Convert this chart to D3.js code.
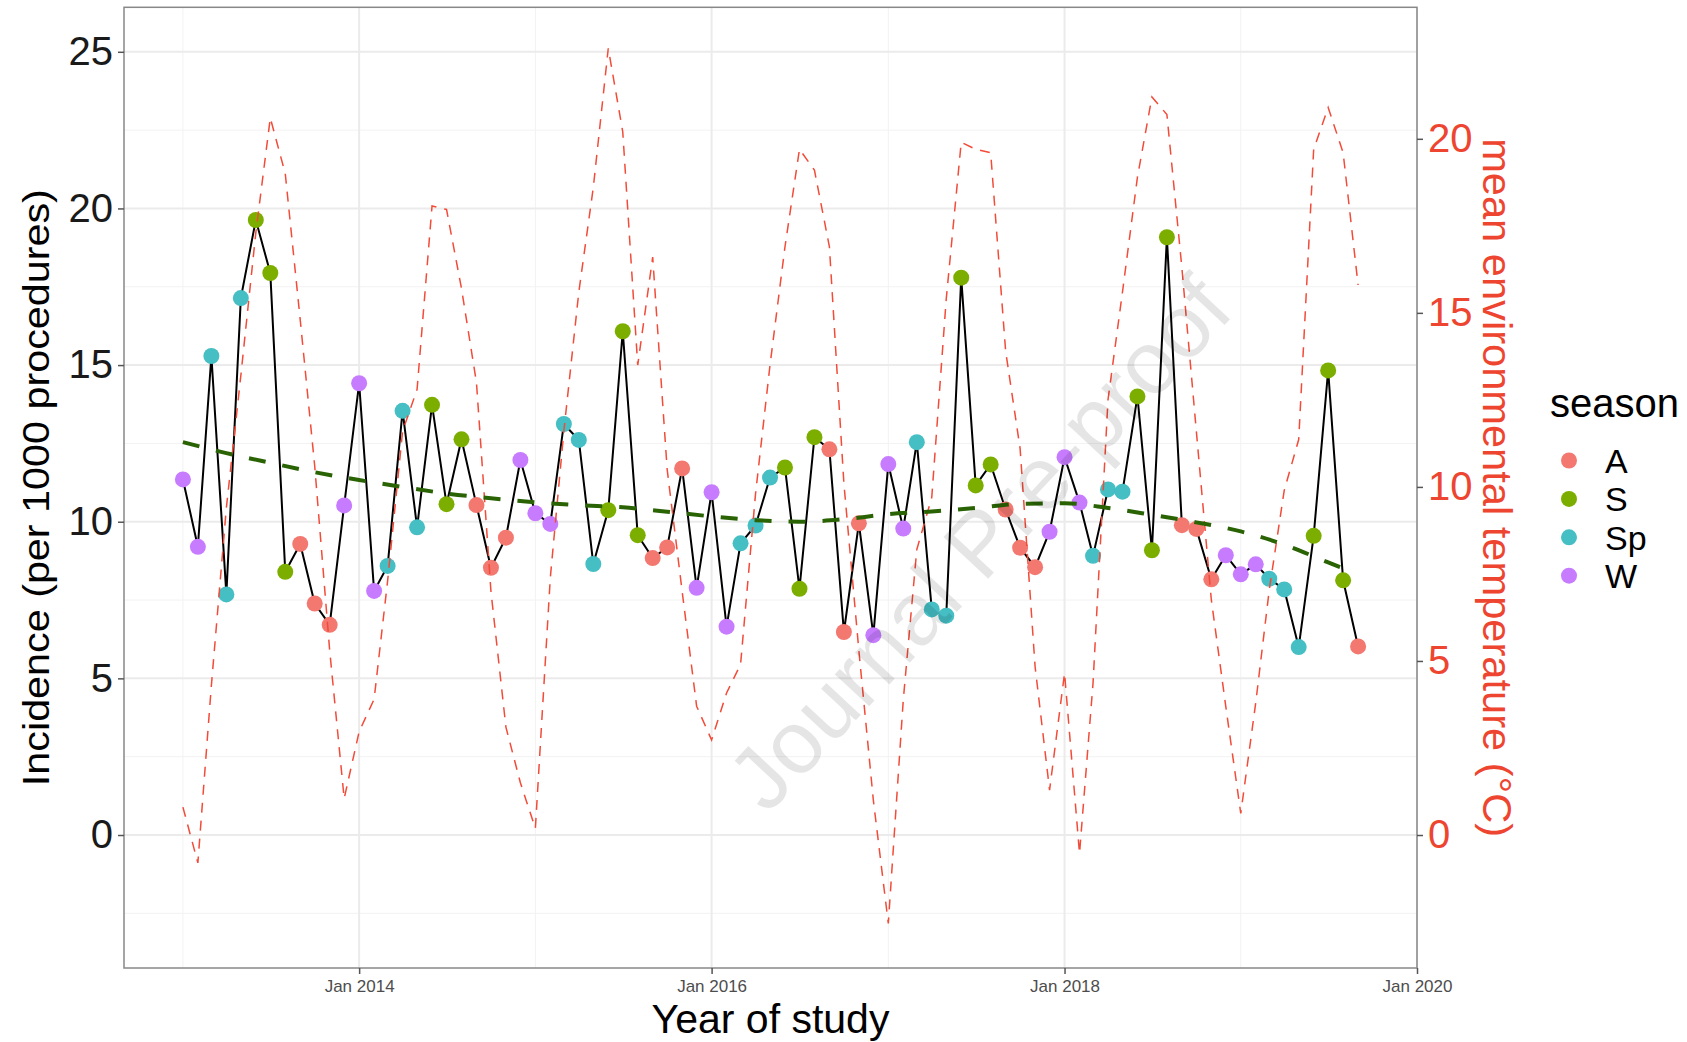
<!DOCTYPE html>
<html>
<head>
<meta charset="utf-8">
<script src="https://cdn.jsdelivr.net/npm/d3@7"></script>
<style>
  body { margin: 0; background: #fff; }
  svg text { font-family: "Liberation Sans", Arial, sans-serif; }
</style>
</head>
<body>
<div id="chart"></div>
<script>
// Dimensiones generales
const width = 1687;
const height = 1042;
const panel = { left: 124, right: 1417, top: 7.3, bottom: 968 };

// Datos mensuales (enero 2013 - septiembre 2019)
const months = [
  "2013-01","2013-02","2013-03","2013-04","2013-05","2013-06","2013-07","2013-08","2013-09","2013-10","2013-11","2013-12",
  "2014-01","2014-02","2014-03","2014-04","2014-05","2014-06","2014-07","2014-08","2014-09","2014-10","2014-11","2014-12",
  "2015-01","2015-02","2015-03","2015-04","2015-05","2015-06","2015-07","2015-08","2015-09","2015-10","2015-11","2015-12",
  "2016-01","2016-02","2016-03","2016-04","2016-05","2016-06","2016-07","2016-08","2016-09","2016-10","2016-11","2016-12",
  "2017-01","2017-02","2017-03","2017-04","2017-05","2017-06","2017-07","2017-08","2017-09","2017-10","2017-11","2017-12",
  "2018-01","2018-02","2018-03","2018-04","2018-05","2018-06","2018-07","2018-08","2018-09","2018-10","2018-11","2018-12",
  "2019-01","2019-02","2019-03","2019-04","2019-05","2019-06","2019-07","2019-08","2019-09"
];
const season = [
  "W","W","Sp","Sp","Sp","S","S","S","A","A","A","W",
  "W","W","Sp","Sp","Sp","S","S","S","A","A","A","W",
  "W","W","Sp","Sp","Sp","S","S","S","A","A","A","W",
  "W","W","Sp","Sp","Sp","S","S","S","A","A","A","W",
  "W","W","Sp","Sp","Sp","S","S","S","A","A","A","W",
  "W","W","Sp","Sp","Sp","S","S","S","A","A","A","W",
  "W","W","Sp","Sp","Sp","S","S","S","A"
];
const incidence = [
  11.35, 9.20, 15.29, 7.68, 17.14, 19.63, 17.94, 8.40, 9.29, 7.39, 6.71, 10.52,
  14.42, 7.79, 8.59, 13.54, 9.82, 13.73, 10.56, 12.63, 10.53, 8.53, 9.49, 11.97,
  10.27, 9.93, 13.12, 12.61, 8.65, 10.37, 16.08, 9.57, 8.84, 9.18, 11.70, 7.89,
  10.94, 6.65, 9.31, 9.88, 11.41, 11.73, 7.86, 12.70, 12.31, 6.48, 9.95, 6.38,
  11.84, 9.78, 12.54, 7.20, 7.00, 17.79, 11.16, 11.83, 10.39, 9.17, 8.55, 9.68,
  12.06, 10.61, 8.91, 11.03, 10.96, 14.00, 9.09, 19.08, 9.89, 9.77, 8.16, 8.93,
  8.32, 8.64, 8.18, 7.84, 6.00, 9.55, 14.83, 8.13, 6.02
];
const temperature = [
  0.8, -0.8, 4.3, 9.4, 13.2, 17.3, 20.6, 19.0, 14.8, 10.6, 5.3, 1.05,
  2.97, 3.9, 7.3, 11.6, 12.8, 18.07, 17.97, 15.7, 13.0, 7.0, 3.1, 1.5,
  0.19, 7.4, 11.6, 15.6, 18.6, 22.6, 20.2, 13.5, 16.6, 10.5, 7.0, 3.7,
  2.73, 4.08, 4.9, 9.8, 13.5, 16.9, 19.7, 19.1, 16.9, 10.1, 5.3, 1.0,
  -2.54, 3.88, 8.2, 9.7, 15.4, 19.9, 19.7, 19.6, 13.9, 11.1, 4.84, 1.29,
  4.65, -0.53, 4.36, 12.5, 15.6, 18.9, 21.2, 20.7, 16.3, 11.6, 6.76, 3.69,
  0.62, 3.8, 7.04, 9.9, 11.36, 19.7, 20.9, 19.6, 15.8
];
// Tendencia suavizada (línea verde discontinua)
const trendMonths = [
  "2013-01","2013-04","2013-07","2013-10","2014-01","2014-04","2014-07","2014-10",
  "2015-01","2015-04","2015-07","2015-10","2016-01","2016-04","2016-07","2016-10",
  "2017-01","2017-04","2017-07","2017-10","2018-01","2018-04","2018-07","2018-10",
  "2019-01","2019-04","2019-07","2019-08"
];
const trendValues = [
  12.54, 12.19, 11.88, 11.58, 11.33, 11.11, 10.90, 10.75,
  10.62, 10.53, 10.46, 10.32, 10.17, 10.05, 10.00, 10.08,
  10.24, 10.33, 10.44, 10.57, 10.59, 10.44, 10.22, 9.98,
  9.69, 9.27, 8.70, 8.51
];

const seasonNames = ["A", "S", "Sp", "W"];
const seasonColors = ["#F27870", "#7CAE00", "#45BEC4", "#C77CFF"];
const incTicks = [0, 5, 10, 15, 20, 25];
const incMinor = [-2.5, 2.5, 7.5, 12.5, 17.5, 22.5];
const tempTicks = [0, 5, 10, 15, 20];
const dateTicks = ["2014-01", "2016-01", "2018-01", "2020-01"];
const dateTickLabels = ["Jan 2014", "Jan 2016", "Jan 2018", "Jan 2020"];
const dateMinor = ["2013-01", "2015-01", "2017-01", "2019-01"];

const parseMonth = d3.timeParse("%Y-%m");
const redText = "#EE4530";

// Escalas
const x = d3.scaleTime()
  .domain([parseMonth("2012-09"), parseMonth("2020-01")])
  .range([panel.left, panel.right]);
const y = d3.scaleLinear()
  .domain([-4.245, 26.42])
  .range([panel.bottom, panel.top]);
// eje secundario: temperatura = 0.9 * incidencia
const yTemp = d3.scaleLinear()
  .domain(y.domain().map(v => v * 0.9))
  .range(y.range());
const color = d3.scaleOrdinal().domain(seasonNames).range(seasonColors);

const data = months.map((m, i) => ({
  date: parseMonth(m), inc: incidence[i], temp: temperature[i], season: season[i]
}));
const trend = trendMonths.map((m, i) => ({ date: parseMonth(m), v: trendValues[i] }));

const svg = d3.select("#chart").append("svg")
  .attr("width", width)
  .attr("height", height);

svg.append("defs").append("clipPath").attr("id", "clip")
  .append("rect")
  .attr("x", panel.left).attr("y", panel.top)
  .attr("width", panel.right - panel.left).attr("height", panel.bottom - panel.top);

// Rejilla
const grid = svg.append("g");
grid.selectAll(".ymin").data(incMinor).enter().append("line")
  .attr("x1", panel.left).attr("x2", panel.right)
  .attr("y1", d => y(d)).attr("y2", d => y(d))
  .attr("stroke", "#f2f2f2").attr("stroke-width", 1);
grid.selectAll(".xmin").data(dateMinor).enter().append("line")
  .attr("y1", panel.top).attr("y2", panel.bottom)
  .attr("x1", d => x(parseMonth(d))).attr("x2", d => x(parseMonth(d)))
  .attr("stroke", "#f2f2f2").attr("stroke-width", 1);
grid.selectAll(".ymaj").data(incTicks).enter().append("line")
  .attr("x1", panel.left).attr("x2", panel.right)
  .attr("y1", d => y(d)).attr("y2", d => y(d))
  .attr("stroke", "#ebebeb").attr("stroke-width", 2);
grid.selectAll(".xmaj").data(dateTicks).enter().append("line")
  .attr("y1", panel.top).attr("y2", panel.bottom)
  .attr("x1", d => x(parseMonth(d))).attr("x2", d => x(parseMonth(d)))
  .attr("stroke", "#ebebeb").attr("stroke-width", 2);

const plot = svg.append("g").attr("clip-path", "url(#clip)");

// Línea de incidencia
plot.append("path")
  .datum(data)
  .attr("fill", "none")
  .attr("stroke", "#000")
  .attr("stroke-width", 2)
  .attr("d", d3.line().x(d => x(d.date)).y(d => y(d.inc)));

// Puntos por estación
plot.selectAll("circle.pt").data(data).enter().append("circle")
  .attr("class", "pt")
  .attr("cx", d => x(d.date))
  .attr("cy", d => y(d.inc))
  .attr("r", 8)
  .attr("fill", d => color(d.season));

// Temperatura (roja discontinua)
plot.append("path")
  .datum(data)
  .attr("fill", "none")
  .attr("stroke", "#F24B38")
  .attr("stroke-width", 1.5)
  .attr("stroke-dasharray", "10,8")
  .attr("d", d3.line().x(d => x(d.date)).y(d => yTemp(d.temp)));

// Tendencia
plot.append("path")
  .datum(trend)
  .attr("fill", "none")
  .attr("stroke", "#2a6304")
  .attr("stroke-width", 4)
  .attr("stroke-dasharray", "17,17")
  .attr("d", d3.line().curve(d3.curveMonotoneX).x(d => x(d.date)).y(d => y(d.v)));

// Marca de agua
svg.append("text")
  .attr("transform", "translate(979,543) rotate(-47)")
  .attr("text-anchor", "middle")
  .attr("dominant-baseline", "central")
  .attr("font-size", 89)
  .attr("fill", "#000")
  .attr("fill-opacity", 0.1)
  .text("Journal Pre-proof");

// Borde del panel
svg.append("rect")
  .attr("x", panel.left).attr("y", panel.top)
  .attr("width", panel.right - panel.left).attr("height", panel.bottom - panel.top)
  .attr("fill", "none").attr("stroke", "#888").attr("stroke-width", 1.5);

// Ejes
const axisLeft = svg.append("g")
  .attr("transform", `translate(${panel.left},0)`)
  .call(d3.axisLeft(y).tickValues(incTicks).tickSize(6).tickPadding(5));
axisLeft.select(".domain").remove();
axisLeft.selectAll("line").attr("stroke", "#555").attr("stroke-width", 1.5);
axisLeft.selectAll("text").attr("font-size", 40).attr("fill", "#1a1a1a")
  .attr("font-family", "Liberation Sans, Arial, sans-serif");

const axisRight = svg.append("g")
  .attr("transform", `translate(${panel.right},0)`)
  .call(d3.axisRight(yTemp).tickValues(tempTicks).tickSize(6).tickPadding(5));
axisRight.select(".domain").remove();
axisRight.selectAll("line").attr("stroke", "#555").attr("stroke-width", 1.5);
axisRight.selectAll("text").attr("font-size", 40).attr("fill", redText)
  .attr("font-family", "Liberation Sans, Arial, sans-serif");

const axisBottom = svg.append("g")
  .attr("transform", `translate(0,${panel.bottom})`)
  .call(d3.axisBottom(x)
    .tickValues(dateTicks.map(parseMonth))
    .tickFormat((d, i) => dateTickLabels[i])
    .tickSize(6).tickPadding(6));
axisBottom.select(".domain").remove();
axisBottom.selectAll("line").attr("stroke", "#555").attr("stroke-width", 1.5);
axisBottom.selectAll("text").attr("font-size", 17).attr("fill", "#4d4d4d")
  .attr("font-family", "Liberation Sans, Arial, sans-serif");

// Títulos de ejes
svg.append("text")
  .attr("transform", `translate(49,${(panel.top + panel.bottom) / 2}) rotate(-90)`)
  .attr("text-anchor", "middle")
  .attr("font-size", 37)
  .attr("textLength", 597)
  .attr("lengthAdjust", "spacingAndGlyphs")
  .attr("fill", "#000")
  .text("Incidence (per 1000 procedures)");

svg.append("text")
  .attr("transform", `translate(1483,${(panel.top + panel.bottom) / 2}) rotate(90)`)
  .attr("text-anchor", "middle")
  .attr("font-size", 41)
  .attr("textLength", 699)
  .attr("lengthAdjust", "spacingAndGlyphs")
  .attr("fill", redText)
  .text("mean environmental temperature (°C)");

svg.append("text")
  .attr("x", (panel.left + panel.right) / 2)
  .attr("y", 1033)
  .attr("text-anchor", "middle")
  .attr("font-size", 41)
  .attr("fill", "#000")
  .text("Year of study");

// Leyenda
const legend = svg.append("g");
legend.append("text")
  .attr("x", 1550).attr("y", 417)
  .attr("font-size", 40)
  .attr("fill", "#000")
  .text("season");
const keys = legend.selectAll("g.key").data(seasonNames).enter().append("g")
  .attr("class", "key")
  .attr("transform", (d, i) => `translate(0,${460.5 + i * 38.4})`);
keys.append("circle")
  .attr("cx", 1569).attr("cy", 0).attr("r", 8)
  .attr("fill", d => color(d));
keys.append("text")
  .attr("x", 1605).attr("y", 12.5)
  .attr("font-size", 34)
  .attr("fill", "#000")
  .text(d => d);
</script>
</body>
</html>
